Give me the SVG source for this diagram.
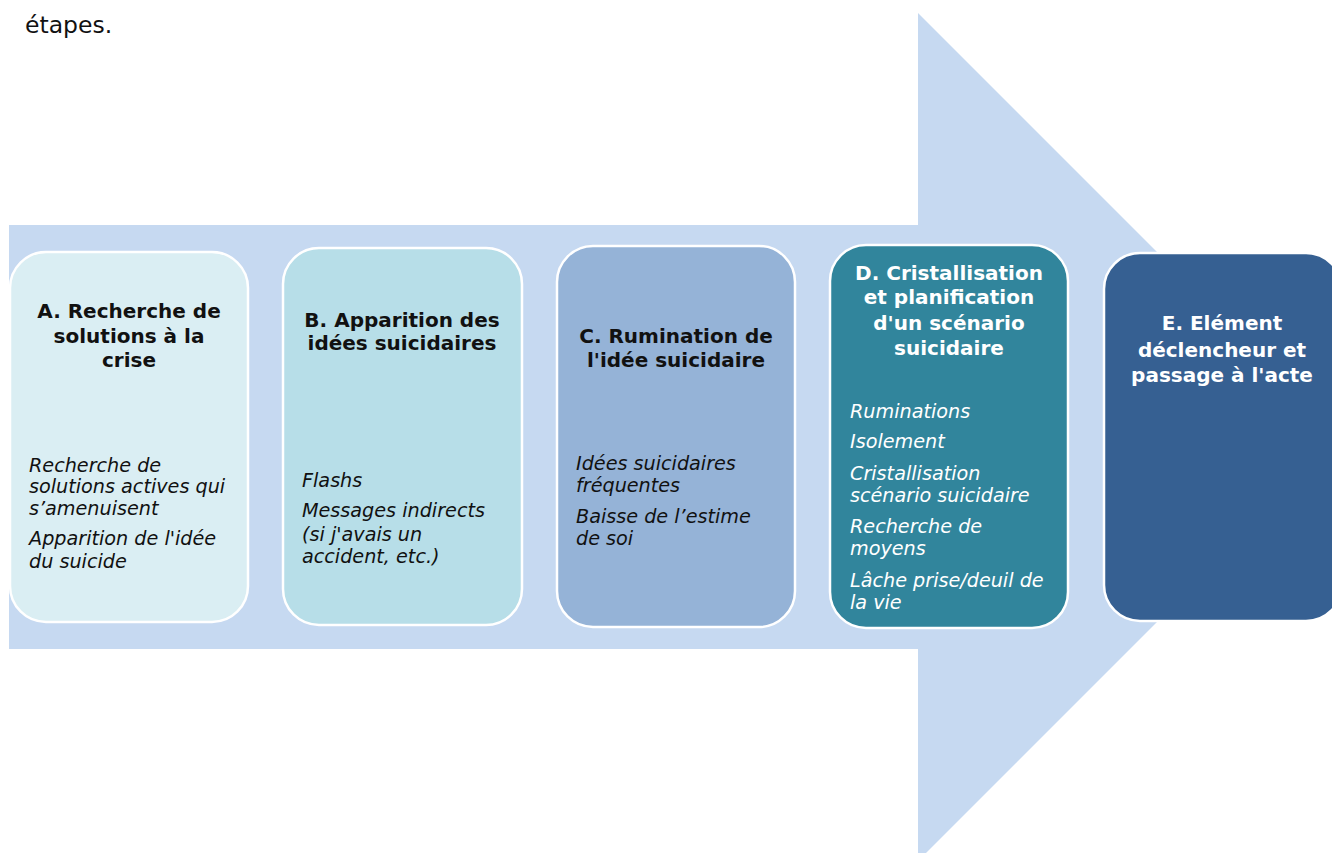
<svg xmlns="http://www.w3.org/2000/svg" width="1332" height="853" viewBox="0 0 1332 853">
  <style>
    .title { font-family: "DejaVu Sans", sans-serif; font-weight: bold; font-size: 20px; text-anchor: middle; }
    .item { font-family: "DejaVu Sans", sans-serif; font-style: oblique; font-size: 19.2px; }
    .dark { fill: #111111; }
    .light { fill: #ffffff; }
    .card { stroke: #ffffff; stroke-width: 2.5; }
  </style>
  <rect width="1332" height="853" fill="#ffffff"/>
  <text x="25" y="33" font-family="DejaVu Sans, sans-serif" font-size="23.5" fill="#111111">étapes.</text>

  <!-- large background arrow -->
  <g id="arrow">
    <polygon points="9,225 918,225 918,13 1342,437 918,861 918,649 9,649" fill="#C6D9F1"/>
  </g>

  <g id="stepA">
    <rect class="card" x="10" y="252" width="238" height="370" rx="36" fill="#DAEEF3"/>
    <text class="title dark"><tspan x="129" y="318">A. Recherche de</tspan><tspan x="129" y="343">solutions à la</tspan><tspan x="129" y="367">crise</tspan></text>
    <text class="item dark"><tspan x="29" y="472">Recherche de</tspan><tspan x="29" y="493">solutions actives qui</tspan><tspan x="29" y="515">s’amenuisent</tspan><tspan x="29" y="545">Apparition de l'idée</tspan><tspan x="29" y="568">du suicide</tspan></text>
  </g>

  <g id="stepB">
    <rect class="card" x="283" y="248" width="239" height="377" rx="36" fill="#B7DEE8"/>
    <text class="title dark"><tspan x="402" y="327">B. Apparition des</tspan><tspan x="402" y="350">idées suicidaires</tspan></text>
    <text class="item dark"><tspan x="302" y="487">Flashs</tspan><tspan x="302" y="517">Messages indirects</tspan><tspan x="302" y="541">(si j'avais un</tspan><tspan x="302" y="563">accident, etc.)</tspan></text>
  </g>

  <g id="stepC">
    <rect class="card" x="557" y="246" width="238" height="381" rx="36" fill="#95B3D7"/>
    <text class="title dark"><tspan x="676" y="343">C. Rumination de</tspan><tspan x="676" y="367">l'idée suicidaire</tspan></text>
    <text class="item dark"><tspan x="576" y="470">Idées suicidaires</tspan><tspan x="576" y="492">fréquentes</tspan><tspan x="576" y="523">Baisse de l’estime</tspan><tspan x="576" y="545">de soi</tspan></text>
  </g>

  <g id="stepD">
    <rect class="card" x="830" y="245" width="238" height="383" rx="36" fill="#31859C"/>
    <text class="title light"><tspan x="949" y="280">D. Cristallisation</tspan><tspan x="949" y="304">et planification</tspan><tspan x="949" y="330">d'un scénario</tspan><tspan x="949" y="355">suicidaire</tspan></text>
    <text class="item light"><tspan x="850" y="418">Ruminations</tspan><tspan x="850" y="448">Isolement</tspan><tspan x="850" y="480">Cristallisation</tspan><tspan x="850" y="502">scénario suicidaire</tspan><tspan x="850" y="533">Recherche de</tspan><tspan x="850" y="555">moyens</tspan><tspan x="850" y="587">Lâche prise/deuil de</tspan><tspan x="850" y="609">la vie</tspan></text>
  </g>

  <g id="stepE">
    <rect class="card" x="1104" y="253" width="238" height="368" rx="36" fill="#366092"/>
    <text class="title light"><tspan x="1222" y="330">E. Elément</tspan><tspan x="1222" y="357">déclencheur et</tspan><tspan x="1222" y="382">passage à l'acte</tspan></text>
  </g>

  <g id="connectors"/>
</svg>
